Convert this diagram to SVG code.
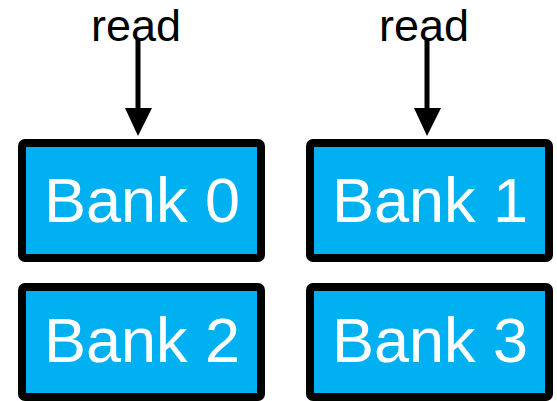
<svg xmlns="http://www.w3.org/2000/svg" width="557" height="401" viewBox="0 0 557 401">
  <style>
    .bank rect { fill: #00b0f0; stroke: #000; stroke-width: 8; }
    .bank text { font-family: "Liberation Sans", Arial, sans-serif; font-size: 63px; fill: #fff; text-anchor: middle; }
    .label { font-family: "Liberation Sans", Arial, sans-serif; font-size: 45px; fill: #000; text-anchor: middle; }
    .wire { stroke: #000; stroke-width: 5; fill: none; }
  </style>
  <rect width="557" height="401" fill="#fff"/>

  <g id="bank0" class="bank">
    <rect x="22" y="143" width="239" height="115" rx="3"/>
    <text x="142" y="222">Bank 0</text>
  </g>
  <g id="bank1" class="bank">
    <rect x="310" y="143" width="239" height="115" rx="3"/>
    <text x="430" y="222">Bank 1</text>
  </g>
  <g id="bank2" class="bank">
    <rect x="22" y="287" width="239" height="110" rx="3"/>
    <text x="142" y="362">Bank 2</text>
  </g>
  <g id="bank3" class="bank">
    <rect x="310" y="287" width="239" height="110" rx="3"/>
    <text x="430" y="362">Bank 3</text>
  </g>

  <g id="read0">
    <text class="label" x="136" y="41">read</text>
  </g>
  <g id="read1">
    <text class="label" x="424" y="41">read</text>
  </g>

  <g id="connectors">
    <line class="wire" x1="138" y1="38" x2="138" y2="110"/>
    <polygon points="125,108 152,108 138,136" fill="#000"/>
    <line class="wire" x1="427" y1="38" x2="427" y2="110"/>
    <polygon points="414,108 441,108 427,136" fill="#000"/>
  </g>
</svg>
